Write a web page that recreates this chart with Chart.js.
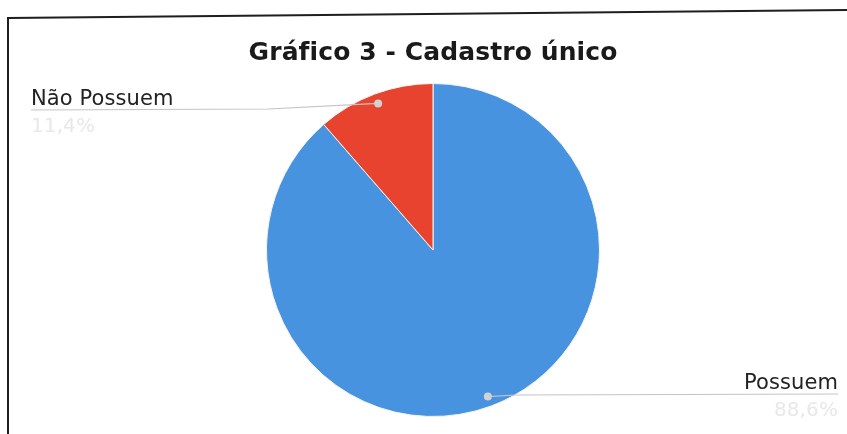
<!DOCTYPE html>
<html>
<head>
<meta charset="utf-8">
<script src="https://cdn.jsdelivr.net/npm/chart.js@4/dist/chart.umd.min.js"></script>
<style>
  html, body { margin: 0; padding: 0; background: #fff; }
  #wrap { position: relative; width: 847px; height: 434px; }
</style>
</head>
<body>
<div id="wrap"><canvas id="c" width="847" height="434"></canvas></div>
<script>
const titleText = 'Gráfico 3 - Cadastro único';
const categories = ['Possuem', 'Não Possuem'];
const values = [88.6, 11.4];
const percentLabels = ['88,6%', '11,4%'];
const sliceColors = ['#4893e0', '#e8432f'];

const frame = {
  id: 'frame',
  beforeDraw(chart) {
    const ctx = chart.ctx;
    // small letter spacing prevents the "fi" ligature in the title
    if ('letterSpacing' in ctx) ctx.letterSpacing = '0.1px';
    ctx.save();
    ctx.fillStyle = '#fff';
    ctx.fillRect(0, 0, chart.width, chart.height);
    ctx.strokeStyle = '#1e1e1e';
    ctx.lineWidth = 2;
    ctx.beginPath();
    ctx.moveTo(8, chart.height);
    ctx.lineTo(8, 18);
    ctx.lineTo(chart.width, 10);
    ctx.stroke();
    ctx.restore();
  }
};

const leaders = {
  id: 'leaders',
  afterDatasetsDraw(chart) {
    const ctx = chart.ctx;
    const meta = chart.getDatasetMeta(0);
    ctx.save();
    meta.data.forEach((arc, i) => {
      const p = arc.getProps(['x', 'y', 'startAngle', 'endAngle', 'outerRadius'], true);
      const mid = (p.startAngle + p.endAngle) / 2;
      const r = p.outerRadius * 0.94;
      const dx = p.x + Math.cos(mid) * r;
      const dy = p.y + Math.sin(mid) * r;
      const left = dx < p.x;
      const lineY = left ? 110 : 394;
      const textX = left ? 31 : 838;
      const elbowX = left ? dx - 110 : dx + 28;
      ctx.strokeStyle = '#c4c4c4';
      ctx.lineWidth = 1.2;
      ctx.beginPath();
      ctx.moveTo(dx, dy);
      ctx.lineTo(elbowX, left ? lineY - 1 : lineY + 1);
      ctx.lineTo(textX, lineY);
      ctx.stroke();
      ctx.fillStyle = '#d2d2d2';
      ctx.beginPath();
      ctx.arc(dx, dy, 4, 0, Math.PI * 2);
      ctx.fill();
      ctx.textAlign = left ? 'left' : 'right';
      ctx.textBaseline = 'alphabetic';
      ctx.fillStyle = '#222';
      ctx.font = '21px "DejaVu Sans"';
      ctx.fillText(categories[i], textX, lineY - 5);
      ctx.fillStyle = '#e8e8e8';
      ctx.font = '20px "DejaVu Sans"';
      ctx.fillText(percentLabels[i], textX, lineY + 22);
    });
    ctx.restore();
  }
};

new Chart(document.getElementById('c'), {
  type: 'pie',
  data: {
    labels: categories,
    datasets: [{
      data: values,
      backgroundColor: sliceColors,
      borderColor: '#f4f4f4',
      borderWidth: 1
    }]
  },
  options: {
    responsive: false,
    animation: false,
    layout: { padding: { left: 19, right: 0, top: 0, bottom: 17 } },
    plugins: {
      legend: { display: false },
      tooltip: { enabled: false },
      title: {
        display: true,
        text: titleText,
        color: '#1a1a1a',
        font: { family: '"DejaVu Sans"', size: 25, weight: 'bold', lineHeight: 1.2 },
        padding: { top: 38, bottom: 15 }
      }
    }
  },
  plugins: [frame, leaders]
});
</script>
</body>
</html>
